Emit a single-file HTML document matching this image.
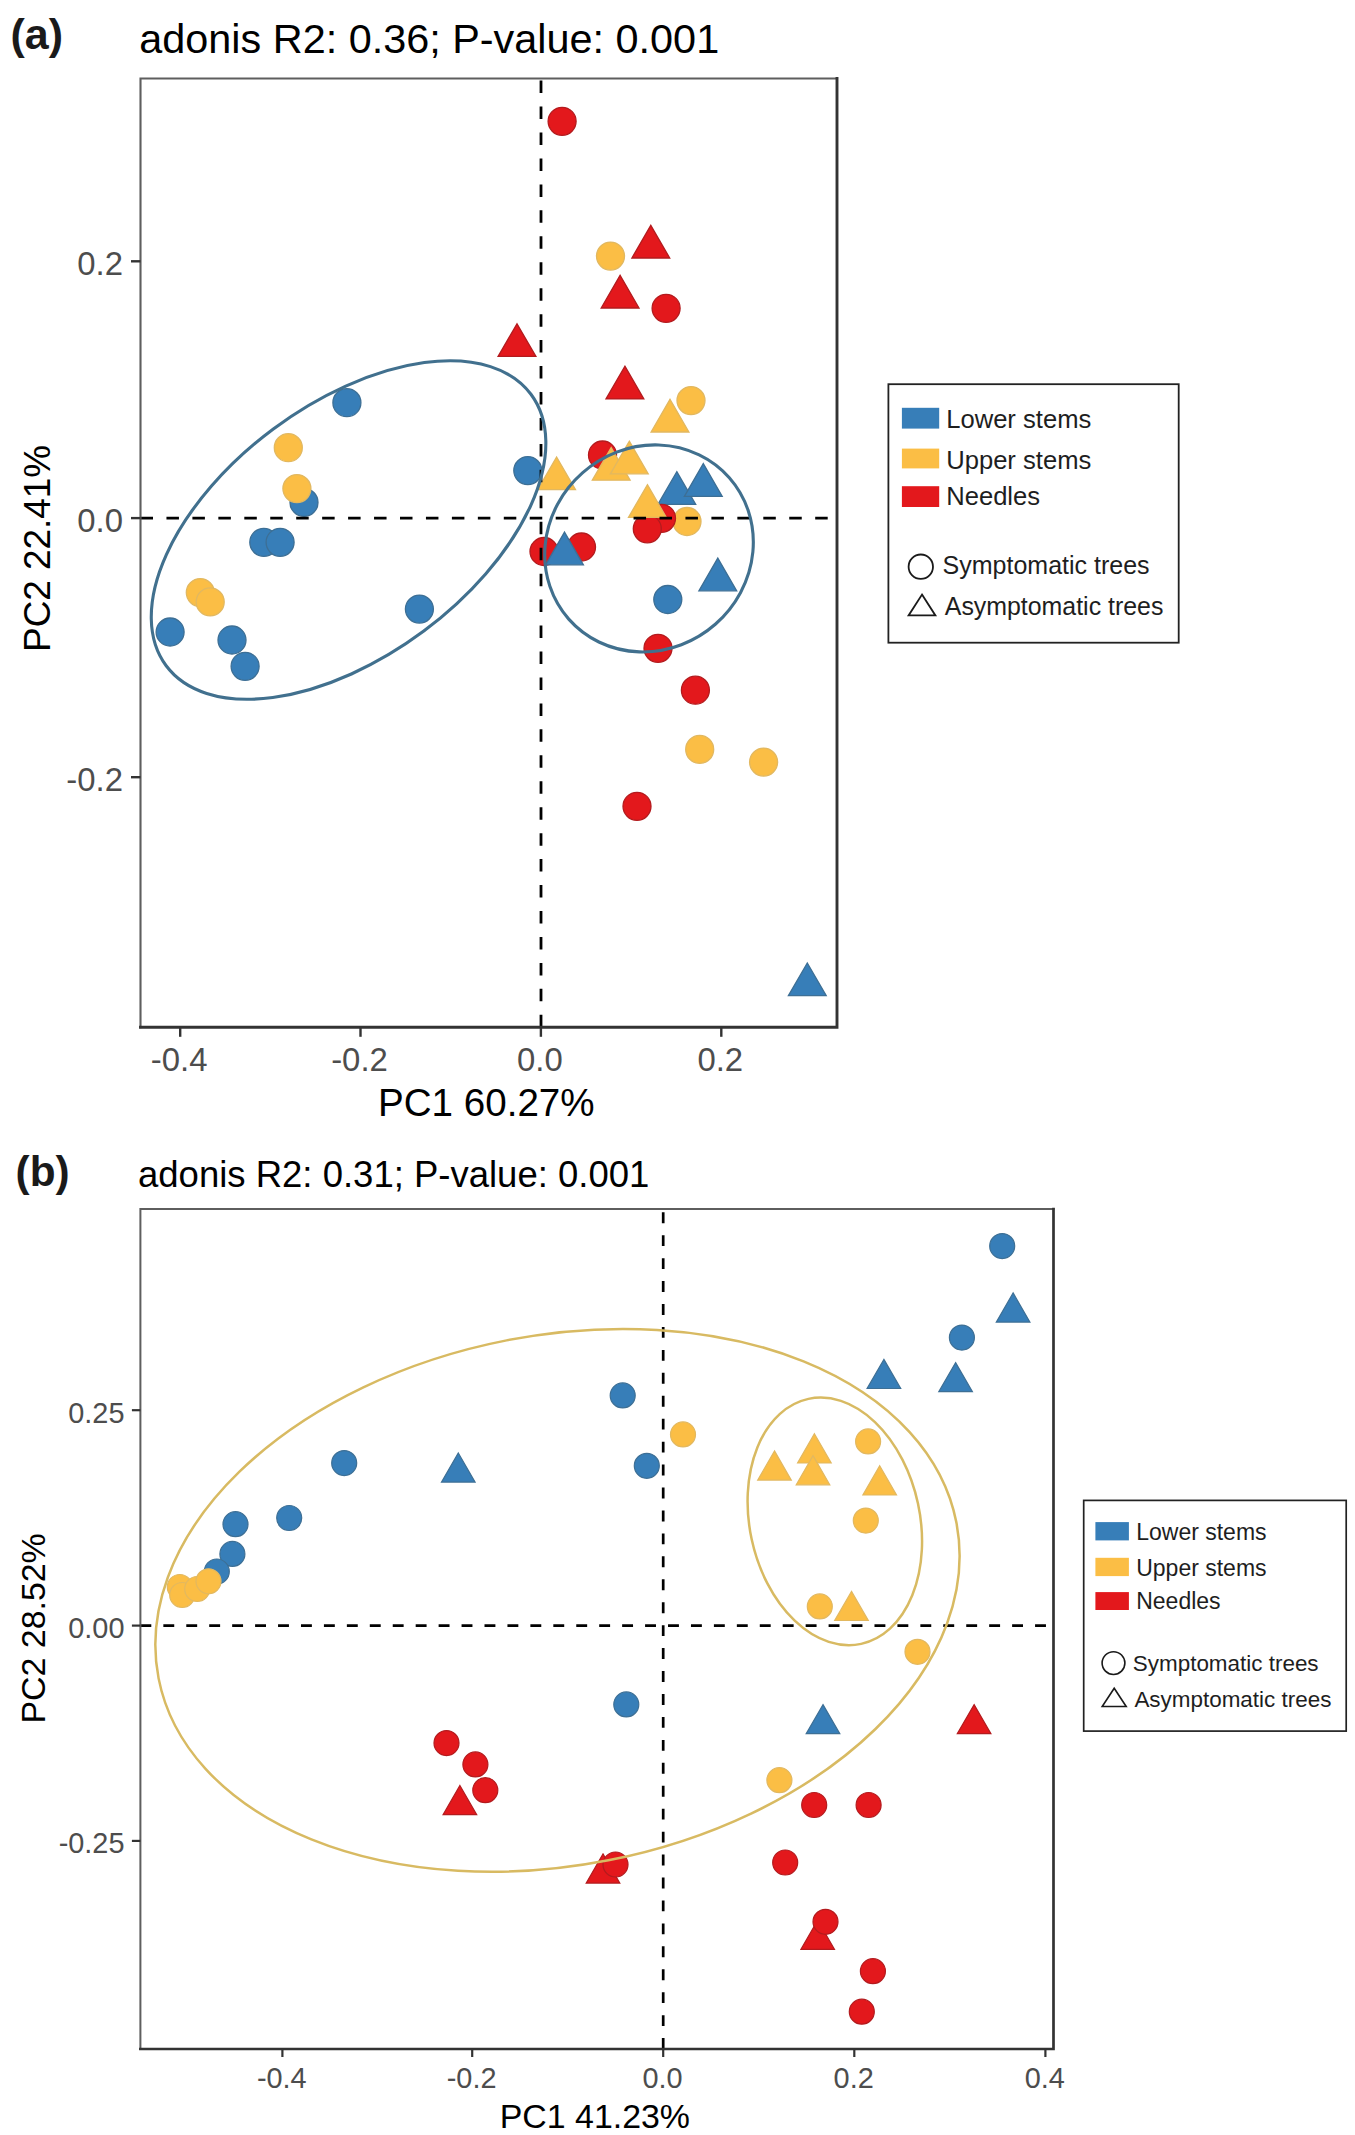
<!DOCTYPE html><html><head><meta charset="utf-8"><style>html,body{margin:0;padding:0;background:#fff;overflow:hidden}svg{display:block}text{font-family:"Liberation Sans",sans-serif}</style></head><body>
<svg width="1355" height="2135" viewBox="0 0 1355 2135">
<rect width="1355" height="2135" fill="#fff"/>
<defs><clipPath id="ca"><rect x="140.5" y="78.5" width="696.5" height="948.8"/></clipPath><clipPath id="cb"><rect x="140.4" y="1209" width="913" height="840"/></clipPath></defs>
<g clip-path="url(#ca)">
<circle cx="562.1" cy="121.3" r="14.00" fill="#E3181C" stroke="#B31B1E" stroke-width="1.3"/>
<circle cx="610.5" cy="256.1" r="14.00" fill="#FBBE45" stroke="#E2B860" stroke-width="1.3"/>
<circle cx="666.1" cy="308.3" r="14.00" fill="#E3181C" stroke="#B31B1E" stroke-width="1.3"/>
<circle cx="691.0" cy="400.6" r="14.00" fill="#FBBE45" stroke="#E2B860" stroke-width="1.3"/>
<circle cx="602.5" cy="455.0" r="14.00" fill="#E3181C" stroke="#B31B1E" stroke-width="1.3"/>
<circle cx="527.8" cy="470.6" r="14.00" fill="#377EB8" stroke="#3D6F95" stroke-width="1.3"/>
<circle cx="346.9" cy="402.7" r="14.00" fill="#377EB8" stroke="#3D6F95" stroke-width="1.3"/>
<circle cx="288.3" cy="447.7" r="14.00" fill="#FBBE45" stroke="#E2B860" stroke-width="1.3"/>
<circle cx="304.0" cy="502.4" r="14.00" fill="#377EB8" stroke="#3D6F95" stroke-width="1.3"/>
<circle cx="296.9" cy="488.6" r="14.00" fill="#FBBE45" stroke="#E2B860" stroke-width="1.3"/>
<circle cx="263.8" cy="542.3" r="14.00" fill="#377EB8" stroke="#3D6F95" stroke-width="1.3"/>
<circle cx="280.1" cy="542.3" r="14.00" fill="#377EB8" stroke="#3D6F95" stroke-width="1.3"/>
<circle cx="200.3" cy="592.6" r="14.00" fill="#FBBE45" stroke="#E2B860" stroke-width="1.3"/>
<circle cx="210.2" cy="601.9" r="14.00" fill="#FBBE45" stroke="#E2B860" stroke-width="1.3"/>
<circle cx="170.1" cy="632.0" r="14.00" fill="#377EB8" stroke="#3D6F95" stroke-width="1.3"/>
<circle cx="232.0" cy="640.0" r="14.00" fill="#377EB8" stroke="#3D6F95" stroke-width="1.3"/>
<circle cx="245.1" cy="666.3" r="14.00" fill="#377EB8" stroke="#3D6F95" stroke-width="1.3"/>
<circle cx="419.4" cy="609.1" r="14.00" fill="#377EB8" stroke="#3D6F95" stroke-width="1.3"/>
<circle cx="687.0" cy="521.5" r="14.00" fill="#FBBE45" stroke="#E2B860" stroke-width="1.3"/>
<circle cx="544.0" cy="551.5" r="14.00" fill="#E3181C" stroke="#B31B1E" stroke-width="1.3"/>
<circle cx="581.5" cy="547.0" r="14.00" fill="#E3181C" stroke="#B31B1E" stroke-width="1.3"/>
<circle cx="667.8" cy="599.5" r="14.00" fill="#377EB8" stroke="#3D6F95" stroke-width="1.3"/>
<circle cx="658.0" cy="648.3" r="14.00" fill="#E3181C" stroke="#B31B1E" stroke-width="1.3"/>
<circle cx="695.4" cy="690.2" r="14.00" fill="#E3181C" stroke="#B31B1E" stroke-width="1.3"/>
<circle cx="699.7" cy="749.4" r="14.00" fill="#FBBE45" stroke="#E2B860" stroke-width="1.3"/>
<circle cx="763.6" cy="762.1" r="14.00" fill="#FBBE45" stroke="#E2B860" stroke-width="1.3"/>
<circle cx="637.0" cy="806.3" r="14.00" fill="#E3181C" stroke="#B31B1E" stroke-width="1.3"/>
<path d="M650.8 225.3L669.7 258.0L631.9 258.0Z" fill="#E3181C" stroke="#B31B1E" stroke-width="1.3" stroke-linejoin="miter"/>
<path d="M620.1 275.3L639.0 308.0L601.2 308.0Z" fill="#E3181C" stroke="#B31B1E" stroke-width="1.3" stroke-linejoin="miter"/>
<path d="M517.0 323.8L535.9 356.4L498.1 356.4Z" fill="#E3181C" stroke="#B31B1E" stroke-width="1.3" stroke-linejoin="miter"/>
<path d="M624.9 366.2L643.8 398.9L606.0 398.9Z" fill="#E3181C" stroke="#B31B1E" stroke-width="1.3" stroke-linejoin="miter"/>
<path d="M670.0 399.3L688.9 432.0L651.1 432.0Z" fill="#FBBE45" stroke="#E2B860" stroke-width="1.3" stroke-linejoin="miter"/>
<path d="M556.6 457.0L575.5 489.7L537.7 489.7Z" fill="#FBBE45" stroke="#E2B860" stroke-width="1.3" stroke-linejoin="miter"/>
<path d="M611.2 447.6L630.1 480.2L592.3 480.2Z" fill="#FBBE45" stroke="#E2B860" stroke-width="1.3" stroke-linejoin="miter"/>
<path d="M629.3 441.2L648.2 473.8L610.4 473.8Z" fill="#FBBE45" stroke="#E2B860" stroke-width="1.3" stroke-linejoin="miter"/>
<path d="M676.8 471.7L695.7 504.4L657.9 504.4Z" fill="#377EB8" stroke="#3D6F95" stroke-width="1.3" stroke-linejoin="miter"/>
<path d="M703.3 463.6L722.2 496.3L684.4 496.3Z" fill="#377EB8" stroke="#3D6F95" stroke-width="1.3" stroke-linejoin="miter"/>
<path d="M564.5 532.1L583.4 564.8L545.6 564.8Z" fill="#377EB8" stroke="#3D6F95" stroke-width="1.3" stroke-linejoin="miter"/>
<path d="M717.8 558.1L736.7 590.8L698.9 590.8Z" fill="#377EB8" stroke="#3D6F95" stroke-width="1.3" stroke-linejoin="miter"/>
<path d="M807.3 963.0L826.2 995.6L788.4 995.6Z" fill="#377EB8" stroke="#3D6F95" stroke-width="1.3" stroke-linejoin="miter"/>
<circle cx="661.5" cy="518.3" r="14.00" fill="#E3181C" stroke="#B31B1E" stroke-width="1.3"/>
<circle cx="647.3" cy="528.8" r="14.00" fill="#E3181C" stroke="#B31B1E" stroke-width="1.3"/>
<path d="M647.4 484.7L666.3 517.3L628.5 517.3Z" fill="#FBBE45" stroke="#E2B860" stroke-width="1.3" stroke-linejoin="miter"/>
<line x1="140.5" y1="518.1" x2="837" y2="518.1" stroke="#000" stroke-width="2.8" stroke-dasharray="12.5 13.45"/>
<line x1="541" y1="1027.3" x2="541" y2="78.5" stroke="#000" stroke-width="2.8" stroke-dasharray="12.5 13.45"/>
<ellipse cx="348.56" cy="530.03" rx="227.36" ry="126.01" transform="rotate(143.34 348.56 530.03)" fill="none" stroke="#41708E" stroke-width="3.1"/>
<ellipse cx="649.03" cy="548.42" rx="106.98" ry="100.73" transform="rotate(138.63 649.03 548.42)" fill="none" stroke="#41708E" stroke-width="3.1"/>
</g>
<path d="M140.5 1027.3V78.5H837" fill="none" stroke="#5E5E5E" stroke-width="2.1" stroke-linecap="square"/>
<path d="M140.5 1027.3H837V78.5" fill="none" stroke="#333" stroke-width="2.9" stroke-linecap="square"/>
<line x1="131.0" y1="261.3" x2="140.5" y2="261.3" stroke="#333" stroke-width="2.4"/>
<line x1="131.0" y1="518.1" x2="140.5" y2="518.1" stroke="#333" stroke-width="2.4"/>
<line x1="131.0" y1="777.2" x2="140.5" y2="777.2" stroke="#333" stroke-width="2.4"/>
<line x1="180.2" y1="1027.3" x2="180.2" y2="1036.8" stroke="#333" stroke-width="2.4"/>
<line x1="360.5" y1="1027.3" x2="360.5" y2="1036.8" stroke="#333" stroke-width="2.4"/>
<line x1="540.9" y1="1027.3" x2="540.9" y2="1036.8" stroke="#333" stroke-width="2.4"/>
<line x1="721.3" y1="1027.3" x2="721.3" y2="1036.8" stroke="#333" stroke-width="2.4"/>
<text x="123" y="275.1" font-size="32.9" fill="#4D4D4D" text-anchor="end">0.2</text>
<text x="123" y="531.9" font-size="32.9" fill="#4D4D4D" text-anchor="end">0.0</text>
<text x="123" y="791.0" font-size="32.9" fill="#4D4D4D" text-anchor="end">-0.2</text>
<text x="179.2" y="1070.6" font-size="32.9" fill="#4D4D4D" text-anchor="middle">-0.4</text>
<text x="359.5" y="1070.6" font-size="32.9" fill="#4D4D4D" text-anchor="middle">-0.2</text>
<text x="539.9" y="1070.6" font-size="32.9" fill="#4D4D4D" text-anchor="middle">0.0</text>
<text x="720.3" y="1070.6" font-size="32.9" fill="#4D4D4D" text-anchor="middle">0.2</text>
<text x="378" y="1116.3" font-size="38.6" fill="#000">PC1 60.27%</text>
<text transform="translate(50 548.4) rotate(-90)" x="0" y="0" font-size="36.9" fill="#000" text-anchor="middle">PC2 22.41%</text>
<text x="139.3" y="52.8" font-size="41.4" fill="#000">adonis R2: 0.36; P-value: 0.001</text>
<text x="10.5" y="48.5" font-size="43" font-weight="bold" fill="#1a1a1a">(a)</text>
<rect x="888.4" y="384.2" width="290.3" height="258.5" fill="#fff" stroke="#222" stroke-width="1.8"/>
<rect x="901.9" y="407.8" width="37.3" height="20.8" fill="#377EB8"/>
<rect x="901.9" y="448.6" width="37.3" height="19.8" fill="#FBBE45"/>
<rect x="901.9" y="486.2" width="37.3" height="20.8" fill="#E3181C"/>
<text x="946.2" y="427.9" font-size="25.6" fill="#1e1e1e">Lower stems</text>
<text x="946.2" y="469.0" font-size="25.6" fill="#1e1e1e">Upper stems</text>
<text x="946.2" y="505.1" font-size="25.6" fill="#1e1e1e">Needles</text>
<circle cx="920.8" cy="566.7" r="12.2" fill="none" stroke="#1a1a1a" stroke-width="1.8"/>
<path d="M922 594.6L935.4 615.4L908.6 615.4Z" fill="none" stroke="#1a1a1a" stroke-width="1.8" stroke-linejoin="miter"/>
<text x="942.6" y="574.2" font-size="25.0" fill="#1e1e1e">Symptomatic trees</text>
<text x="944.8" y="615.1" font-size="24.9" fill="#1e1e1e">Asymptomatic trees</text>
<g clip-path="url(#cb)">
<circle cx="1002.2" cy="1246.1" r="12.50" fill="#377EB8" stroke="#3D6F95" stroke-width="1.2"/>
<circle cx="961.9" cy="1337.6" r="12.50" fill="#377EB8" stroke="#3D6F95" stroke-width="1.2"/>
<circle cx="622.7" cy="1395.4" r="12.50" fill="#377EB8" stroke="#3D6F95" stroke-width="1.2"/>
<circle cx="683.0" cy="1434.4" r="12.50" fill="#FBBE45" stroke="#E2B860" stroke-width="1.2"/>
<circle cx="646.8" cy="1465.8" r="12.50" fill="#377EB8" stroke="#3D6F95" stroke-width="1.2"/>
<circle cx="344.2" cy="1463.1" r="12.50" fill="#377EB8" stroke="#3D6F95" stroke-width="1.2"/>
<circle cx="289.2" cy="1518.0" r="12.50" fill="#377EB8" stroke="#3D6F95" stroke-width="1.2"/>
<circle cx="235.5" cy="1524.2" r="12.50" fill="#377EB8" stroke="#3D6F95" stroke-width="1.2"/>
<circle cx="232.4" cy="1553.9" r="12.50" fill="#377EB8" stroke="#3D6F95" stroke-width="1.2"/>
<circle cx="216.8" cy="1571.5" r="12.50" fill="#377EB8" stroke="#3D6F95" stroke-width="1.2"/>
<circle cx="179.8" cy="1587.0" r="12.50" fill="#FBBE45" stroke="#E2B860" stroke-width="1.2"/>
<circle cx="182.2" cy="1595.0" r="12.50" fill="#FBBE45" stroke="#E2B860" stroke-width="1.2"/>
<circle cx="197.2" cy="1589.0" r="12.50" fill="#FBBE45" stroke="#E2B860" stroke-width="1.2"/>
<circle cx="208.5" cy="1581.3" r="12.50" fill="#FBBE45" stroke="#E2B860" stroke-width="1.2"/>
<circle cx="868.1" cy="1441.4" r="12.50" fill="#FBBE45" stroke="#E2B860" stroke-width="1.2"/>
<circle cx="865.8" cy="1520.6" r="12.50" fill="#FBBE45" stroke="#E2B860" stroke-width="1.2"/>
<circle cx="819.8" cy="1606.4" r="12.50" fill="#FBBE45" stroke="#E2B860" stroke-width="1.2"/>
<circle cx="917.5" cy="1651.8" r="12.50" fill="#FBBE45" stroke="#E2B860" stroke-width="1.2"/>
<circle cx="626.3" cy="1704.4" r="12.50" fill="#377EB8" stroke="#3D6F95" stroke-width="1.2"/>
<circle cx="446.5" cy="1743.1" r="12.50" fill="#E3181C" stroke="#B31B1E" stroke-width="1.2"/>
<circle cx="475.4" cy="1764.4" r="12.50" fill="#E3181C" stroke="#B31B1E" stroke-width="1.2"/>
<circle cx="485.3" cy="1790.2" r="12.50" fill="#E3181C" stroke="#B31B1E" stroke-width="1.2"/>
<circle cx="779.4" cy="1780.2" r="12.50" fill="#FBBE45" stroke="#E2B860" stroke-width="1.2"/>
<circle cx="814.2" cy="1805.0" r="12.50" fill="#E3181C" stroke="#B31B1E" stroke-width="1.2"/>
<circle cx="868.6" cy="1805.0" r="12.50" fill="#E3181C" stroke="#B31B1E" stroke-width="1.2"/>
<circle cx="785.2" cy="1862.5" r="12.50" fill="#E3181C" stroke="#B31B1E" stroke-width="1.2"/>
<circle cx="872.9" cy="1971.2" r="12.50" fill="#E3181C" stroke="#B31B1E" stroke-width="1.2"/>
<circle cx="861.8" cy="2011.7" r="12.50" fill="#E3181C" stroke="#B31B1E" stroke-width="1.2"/>
<path d="M1013.1 1292.9L1029.9 1322.1L996.3 1322.1Z" fill="#377EB8" stroke="#3D6F95" stroke-width="1.2" stroke-linejoin="miter"/>
<path d="M883.9 1359.4L900.7 1388.5L867.1 1388.5Z" fill="#377EB8" stroke="#3D6F95" stroke-width="1.2" stroke-linejoin="miter"/>
<path d="M955.6 1362.6L972.4 1391.7L938.8 1391.7Z" fill="#377EB8" stroke="#3D6F95" stroke-width="1.2" stroke-linejoin="miter"/>
<path d="M458.3 1453.0L475.1 1482.1L441.5 1482.1Z" fill="#377EB8" stroke="#3D6F95" stroke-width="1.2" stroke-linejoin="miter"/>
<path d="M774.5 1450.9L791.3 1480.1L757.7 1480.1Z" fill="#FBBE45" stroke="#E2B860" stroke-width="1.2" stroke-linejoin="miter"/>
<path d="M814.4 1433.8L831.2 1463.0L797.6 1463.0Z" fill="#FBBE45" stroke="#E2B860" stroke-width="1.2" stroke-linejoin="miter"/>
<path d="M813.0 1455.6L829.8 1484.8L796.2 1484.8Z" fill="#FBBE45" stroke="#E2B860" stroke-width="1.2" stroke-linejoin="miter"/>
<path d="M879.7 1465.8L896.5 1495.0L862.9 1495.0Z" fill="#FBBE45" stroke="#E2B860" stroke-width="1.2" stroke-linejoin="miter"/>
<path d="M851.5 1591.4L868.3 1620.5L834.7 1620.5Z" fill="#FBBE45" stroke="#E2B860" stroke-width="1.2" stroke-linejoin="miter"/>
<path d="M823.0 1704.6L839.8 1733.7L806.2 1733.7Z" fill="#377EB8" stroke="#3D6F95" stroke-width="1.2" stroke-linejoin="miter"/>
<path d="M974.1 1704.6L990.9 1733.7L957.3 1733.7Z" fill="#E3181C" stroke="#B31B1E" stroke-width="1.2" stroke-linejoin="miter"/>
<path d="M459.9 1785.5L476.7 1814.7L443.1 1814.7Z" fill="#E3181C" stroke="#B31B1E" stroke-width="1.2" stroke-linejoin="miter"/>
<path d="M603.0 1853.9L619.8 1883.1L586.2 1883.1Z" fill="#E3181C" stroke="#B31B1E" stroke-width="1.2" stroke-linejoin="miter"/>
<path d="M817.7 1920.2L834.5 1949.4L800.9 1949.4Z" fill="#E3181C" stroke="#B31B1E" stroke-width="1.2" stroke-linejoin="miter"/>
<circle cx="615.5" cy="1864.5" r="12.50" fill="#E3181C" stroke="#B31B1E" stroke-width="1.2"/>
<circle cx="825.5" cy="1921.8" r="12.50" fill="#E3181C" stroke="#B31B1E" stroke-width="1.2"/>
<line x1="140.4" y1="1625.6" x2="1053.5" y2="1625.6" stroke="#000" stroke-width="2.7" stroke-dasharray="10.9 12.04"/>
<line x1="663.2" y1="2049" x2="663.2" y2="1209" stroke="#000" stroke-width="2.7" stroke-dasharray="10.9 12.04"/>
<ellipse cx="557.47" cy="1600.34" rx="406.44" ry="264.91" transform="rotate(168.93 557.47 1600.34)" fill="none" stroke="#D8BA62" stroke-width="2.5"/>
<ellipse cx="834.82" cy="1521.38" rx="125.31" ry="85.06" transform="rotate(-102.16 834.82 1521.38)" fill="none" stroke="#D8BA62" stroke-width="2.5"/>
</g>
<path d="M140.4 2049V1209H1053.5" fill="none" stroke="#5E5E5E" stroke-width="2.0" stroke-linecap="square"/>
<path d="M140.4 2049H1053.5V1209" fill="none" stroke="#333" stroke-width="2.7" stroke-linecap="square"/>
<line x1="131.9" y1="1410.2" x2="140.4" y2="1410.2" stroke="#333" stroke-width="2.2"/>
<line x1="131.9" y1="1625.6" x2="140.4" y2="1625.6" stroke="#333" stroke-width="2.2"/>
<line x1="131.9" y1="1840.9" x2="140.4" y2="1840.9" stroke="#333" stroke-width="2.2"/>
<line x1="282.4" y1="2049" x2="282.4" y2="2057" stroke="#333" stroke-width="2.2"/>
<line x1="472.2" y1="2049" x2="472.2" y2="2057" stroke="#333" stroke-width="2.2"/>
<line x1="663.2" y1="2049" x2="663.2" y2="2057" stroke="#333" stroke-width="2.2"/>
<line x1="854.3" y1="2049" x2="854.3" y2="2057" stroke="#333" stroke-width="2.2"/>
<line x1="1045.4" y1="2049" x2="1045.4" y2="2057" stroke="#333" stroke-width="2.2"/>
<text x="124.5" y="1422.5" font-size="28.9" fill="#4D4D4D" text-anchor="end">0.25</text>
<text x="124.5" y="1637.9" font-size="28.9" fill="#4D4D4D" text-anchor="end">0.00</text>
<text x="124.5" y="1853.2" font-size="28.9" fill="#4D4D4D" text-anchor="end">-0.25</text>
<text x="281.8" y="2087.8" font-size="28.9" fill="#4D4D4D" text-anchor="middle">-0.4</text>
<text x="471.6" y="2087.8" font-size="28.9" fill="#4D4D4D" text-anchor="middle">-0.2</text>
<text x="662.6" y="2087.8" font-size="28.9" fill="#4D4D4D" text-anchor="middle">0.0</text>
<text x="853.7" y="2087.8" font-size="28.9" fill="#4D4D4D" text-anchor="middle">0.2</text>
<text x="1044.8" y="2087.8" font-size="28.9" fill="#4D4D4D" text-anchor="middle">0.4</text>
<text x="499.7" y="2128" font-size="33.9" fill="#000">PC1 41.23%</text>
<text transform="translate(44.6 1628.4) rotate(-90)" x="0" y="0" font-size="33.9" fill="#000" text-anchor="middle">PC2 28.52%</text>
<text x="138" y="1186.5" font-size="36.5" fill="#000">adonis R2: 0.31; P-value: 0.001</text>
<text x="15.6" y="1186.3" font-size="42.3" font-weight="bold" fill="#1a1a1a">(b)</text>
<rect x="1083.7" y="1500.4" width="262.5" height="230.7" fill="#fff" stroke="#222" stroke-width="1.7"/>
<rect x="1095.4" y="1522.1" width="33.5" height="18.3" fill="#377EB8"/>
<rect x="1095.4" y="1557.8" width="33.5" height="18.3" fill="#FBBE45"/>
<rect x="1095.4" y="1592.1" width="33.5" height="17.9" fill="#E3181C"/>
<text x="1136.2" y="1539.5" font-size="23.0" fill="#1e1e1e">Lower stems</text>
<text x="1136.2" y="1575.7" font-size="23.0" fill="#1e1e1e">Upper stems</text>
<text x="1136.2" y="1608.7" font-size="23.0" fill="#1e1e1e">Needles</text>
<circle cx="1113.5" cy="1663.1" r="11.4" fill="none" stroke="#1a1a1a" stroke-width="1.6"/>
<path d="M1114.2 1688.2L1126.2 1706.5L1102.2 1706.5Z" fill="none" stroke="#1a1a1a" stroke-width="1.6" stroke-linejoin="miter"/>
<text x="1132.8" y="1670.5" font-size="22.45" fill="#1e1e1e">Symptomatic trees</text>
<text x="1134.4" y="1707.3" font-size="22.45" fill="#1e1e1e">Asymptomatic trees</text>
</svg></body></html>
